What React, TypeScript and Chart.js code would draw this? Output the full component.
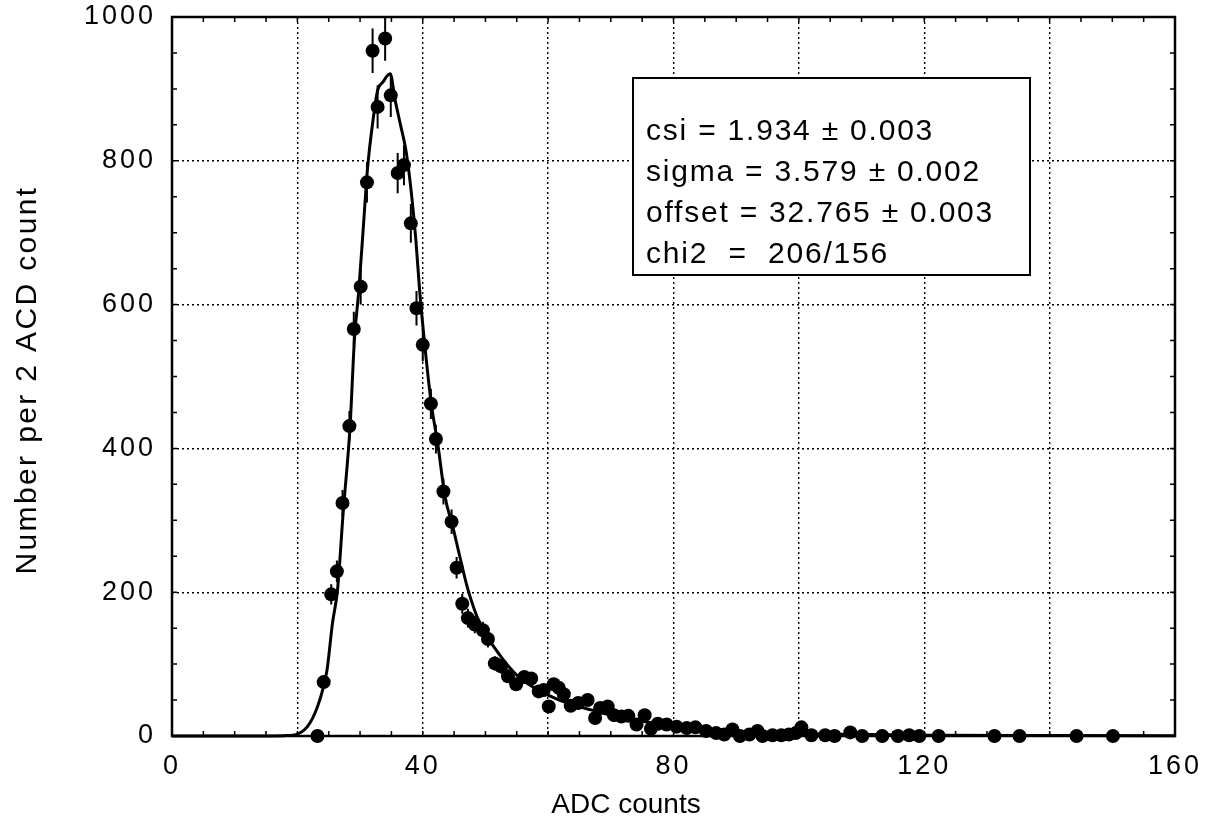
import { useEffect, useRef } from "react"
import { Chart, registerables } from "chart.js"

Chart.register(...registerables)

// Measured points (ADC counts, number per bin) and their error bars
const dataX = [
  23.2, 24.2, 25.4, 26.3, 27.2, 28.3, 29.0, 30.1, 31.1, 32.0,
  32.8, 34.0, 34.9, 36.0, 37.0, 38.1, 39.0, 40.0, 41.3, 42.1,
  43.3, 44.6, 45.4, 46.3, 47.2, 48.3, 49.6, 50.4, 51.5, 52.5,
  53.6, 54.9, 56.2, 57.3, 58.5, 59.3, 60.1, 60.9, 61.7, 62.5,
  63.6, 64.8, 66.3, 67.5, 68.3, 69.5, 70.5, 71.7, 72.8, 74.1,
  75.4, 76.4, 77.5, 78.9, 80.5, 82.1, 83.5, 85.2, 86.8, 88.1,
  89.4, 90.6, 92.1, 93.4, 94.2, 95.8, 97.2, 98.4, 99.5, 100.4,
  102.0, 104.2, 105.7, 108.2, 110.1, 113.3, 115.8, 117.6, 119.2, 122.3,
  131.2, 135.2, 144.3, 150.1,
]
const dataY = [
  0, 75, 197, 229, 324, 431, 566, 625, 770, 953,
  875, 970, 891, 783, 794, 713, 595, 544, 462, 413,
  340, 298, 234, 184, 164, 155, 147, 135, 101, 97,
  83, 72, 82, 80, 62, 64, 41, 72, 67, 58,
  42, 46, 50, 25, 39, 41, 29, 27, 28, 16,
  29, 10, 17, 16, 13, 11, 12, 7, 4, 2,
  9, 0, 2, 7, 0, 1, 1, 2, 4, 12,
  1, 1, 0, 5, 0, 0, 0, 1, 0, 0,
  0, 0, 0, 0,
]
const dataErr = [
  0, 9, 14, 15, 18, 21, 24, 25, 28, 31,
  30, 31, 30, 28, 28, 27, 24, 23, 21, 20,
  18, 17, 15, 14, 13, 12, 12, 12, 10, 10,
  9, 8, 9, 9, 8, 8, 6, 8, 8, 8,
  6, 7, 7, 5, 6, 6, 5, 5, 5, 4,
  5, 3, 4, 4, 4, 3, 3, 3, 2, 1,
  3, 0, 1, 3, 0, 1, 1, 1, 2, 3,
  1, 1, 0, 2, 0, 0, 0, 1, 0, 0,
  0, 0, 0, 0,
]

// Fitted curve
const fitX = [
  0, 14, 17.9, 20.1, 22.0, 23.6, 24.7, 25.6, 26.4, 27.3,
  28.4, 29.1, 29.8, 30.5, 31.2, 32.0, 32.8, 33.6, 34.8, 35.6,
  36.4, 37.4, 38.2, 38.9, 39.5, 40.4, 41.35, 42.45, 43.55, 44.8,
  45.9, 47.2, 49.1, 52.0, 55.2, 59.3, 63, 67, 71, 76,
  81, 86, 91, 101, 111, 121, 141, 160,
]
const fitY = [
  0, 0, 0.5, 3, 18, 51, 90, 157, 203, 310,
  430, 551, 620, 705, 790, 852, 898, 909, 921, 884,
  852, 810, 754, 690, 620, 537, 463, 403, 333, 291,
  250, 204, 157, 116, 83, 60, 46, 36, 27, 19,
  13, 9, 6, 3, 2, 1.2, 0.6, 0.3,
]

const xTickLabels = [0, 40, 80, 120, 160]
const yTickLabels = [0, 200, 400, 600, 800, 1000]
const fitText = [
  "csi = 1.934 ± 0.003",
  "sigma = 3.579 ± 0.002",
  "offset = 32.765 ± 0.003",
  "chi2  =  206/156",
]

const FONT = "'Liberation Sans', Arial, Helvetica, sans-serif"
const X_MINOR = 5
const Y_MINOR = 50

// letter spacing that makes `text` about `width` px wide
function spacingFor(ctx: CanvasRenderingContext2D, text: string, width: number) {
  ctx.letterSpacing = "0px"
  const w = ctx.measureText(text).width
  return `${Math.max(0, (width - w) / text.length)}px`
}

const decor = {
  id: "decor",
  beforeDraw(chart: any) {
    chart.ctx.letterSpacing = "3px"
  },
  beforeDatasetsDraw(chart: any) {
    const { ctx, chartArea: a } = chart
    const xs = chart.scales.x
    const ys = chart.scales.y
    ctx.save()
    ctx.strokeStyle = "#000"
    ctx.lineWidth = 1.5
    ctx.beginPath()
    for (let v = xs.min; v <= xs.max; v += X_MINOR) {
      const px = xs.getPixelForValue(v)
      ctx.moveTo(px, a.bottom)
      ctx.lineTo(px, a.bottom - 5)
      ctx.moveTo(px, a.top)
      ctx.lineTo(px, a.top + 5)
    }
    for (let v = ys.min; v <= ys.max; v += Y_MINOR) {
      const py = ys.getPixelForValue(v)
      ctx.moveTo(a.left, py)
      ctx.lineTo(a.left + 5, py)
      ctx.moveTo(a.right, py)
      ctx.lineTo(a.right - 5, py)
    }
    ctx.stroke()
    ctx.lineWidth = 2.5
    ctx.strokeRect(a.left, a.top, a.right - a.left, a.bottom - a.top)
    ctx.restore()
  },
  afterDatasetsDraw(chart: any) {
    const { ctx } = chart
    const ys = chart.scales.y
    const meta = chart.getDatasetMeta(1)
    ctx.save()
    ctx.strokeStyle = "#000"
    ctx.lineWidth = 2
    ctx.beginPath()
    meta.data.forEach((pt: any, i: number) => {
      const e = dataErr[i]
      if (!e) return
      ctx.moveTo(pt.x, ys.getPixelForValue(dataY[i] + e))
      ctx.lineTo(pt.x, ys.getPixelForValue(dataY[i] - e))
    })
    ctx.stroke()
    ctx.restore()
  },
  afterDraw(chart: any) {
    const { ctx } = chart
    ctx.save()
    ctx.fillStyle = "#000"

    // axis titles
    ctx.letterSpacing = "0px"
    ctx.font = `28px ${FONT}`
    ctx.textAlign = "center"
    ctx.textBaseline = "middle"
    ctx.fillText("ADC counts", 626, 805)

    const yTitle = "Number per 2 ACD count"
    ctx.font = `30px ${FONT}`
    ctx.letterSpacing = spacingFor(ctx, yTitle, 389)
    ctx.translate(28, 380)
    ctx.rotate(-Math.PI / 2)
    ctx.fillText(yTitle, 0, 0)
    ctx.setTransform(1, 0, 0, 1, 0, 0)

    // fit result box
    ctx.fillStyle = "#fff"
    ctx.fillRect(633, 78, 397, 197)
    ctx.strokeStyle = "#000"
    ctx.lineWidth = 2
    ctx.strokeRect(633, 78, 397, 197)
    ctx.fillStyle = "#000"
    ctx.font = `30px ${FONT}`
    ctx.letterSpacing = spacingFor(ctx, fitText[1], 335)
    ctx.textAlign = "left"
    fitText.forEach((t, i) => ctx.fillText(t, 646, 132 + i * 41))

    ctx.restore()
    ctx.letterSpacing = "0px"
  },
}

export default function App() {
  const canvasRef = useRef<HTMLCanvasElement>(null)
  const chartRef = useRef<Chart | null>(null)

  useEffect(() => {
    if (!canvasRef.current) return
    if (chartRef.current) chartRef.current.destroy()

    chartRef.current = new Chart(canvasRef.current, {
      type: "scatter",
      data: {
        datasets: [
          {
            type: "line",
            label: "fit",
            data: fitX.map((x, i) => ({ x, y: fitY[i] })),
            borderColor: "#000",
            borderWidth: 3,
            pointRadius: 0,
            cubicInterpolationMode: "monotone",
            fill: false,
            clip: false,
          },
          {
            label: "data",
            data: dataX.map((x, i) => ({ x, y: dataY[i] })),
            backgroundColor: "#000",
            borderColor: "#000",
            pointRadius: 7,
            borderWidth: 0,
            clip: false,
          },
        ],
      },
      options: {
        responsive: false,
        animation: false,
        events: [],
        layout: { padding: { left: 0, top: 17, right: 44, bottom: 0 } },
        plugins: {
          legend: { display: false },
          tooltip: { enabled: false },
        },
        font: { family: FONT },
        scales: {
          x: {
            type: "linear",
            min: 0,
            max: 160,
            afterFit: (s: any) => {
              s.height = 97
              s.paddingLeft = 0
              s.paddingRight = 0
            },
            grid: { color: "#000", lineWidth: 1.4, drawTicks: false },
            border: { display: false, dash: [2, 3] },
            ticks: {
              stepSize: 20,
              autoSkip: false,
              maxRotation: 0,
              padding: 14,
              color: "#000",
              font: { family: FONT, size: 27 },
              callback: (v: any) => (xTickLabels.includes(Number(v)) ? String(v) : ""),
            },
          },
          y: {
            type: "linear",
            min: 0,
            max: 1000,
            afterFit: (s: any) => {
              s.width = 172
              s.paddingTop = 0
              s.paddingBottom = 0
            },
            grid: { color: "#000", lineWidth: 1.4, drawTicks: false },
            border: { display: false, dash: [2, 3] },
            ticks: {
              stepSize: 200,
              autoSkip: false,
              padding: 16,
              color: "#000",
              font: { family: FONT, size: 27 },
              callback: (v: any) => (yTickLabels.includes(Number(v)) ? String(v) : ""),
            },
          },
        },
      } as any,
      plugins: [decor],
    })

    return () => {
      if (chartRef.current) {
        chartRef.current.destroy()
        chartRef.current = null
      }
    }
  }, [])

  return (
    <div style={{ position: "fixed", left: 0, top: 0, width: 1219, height: 833, background: "#fff" }}>
      <canvas ref={canvasRef} width={1219} height={833}></canvas>
    </div>
  )
}
